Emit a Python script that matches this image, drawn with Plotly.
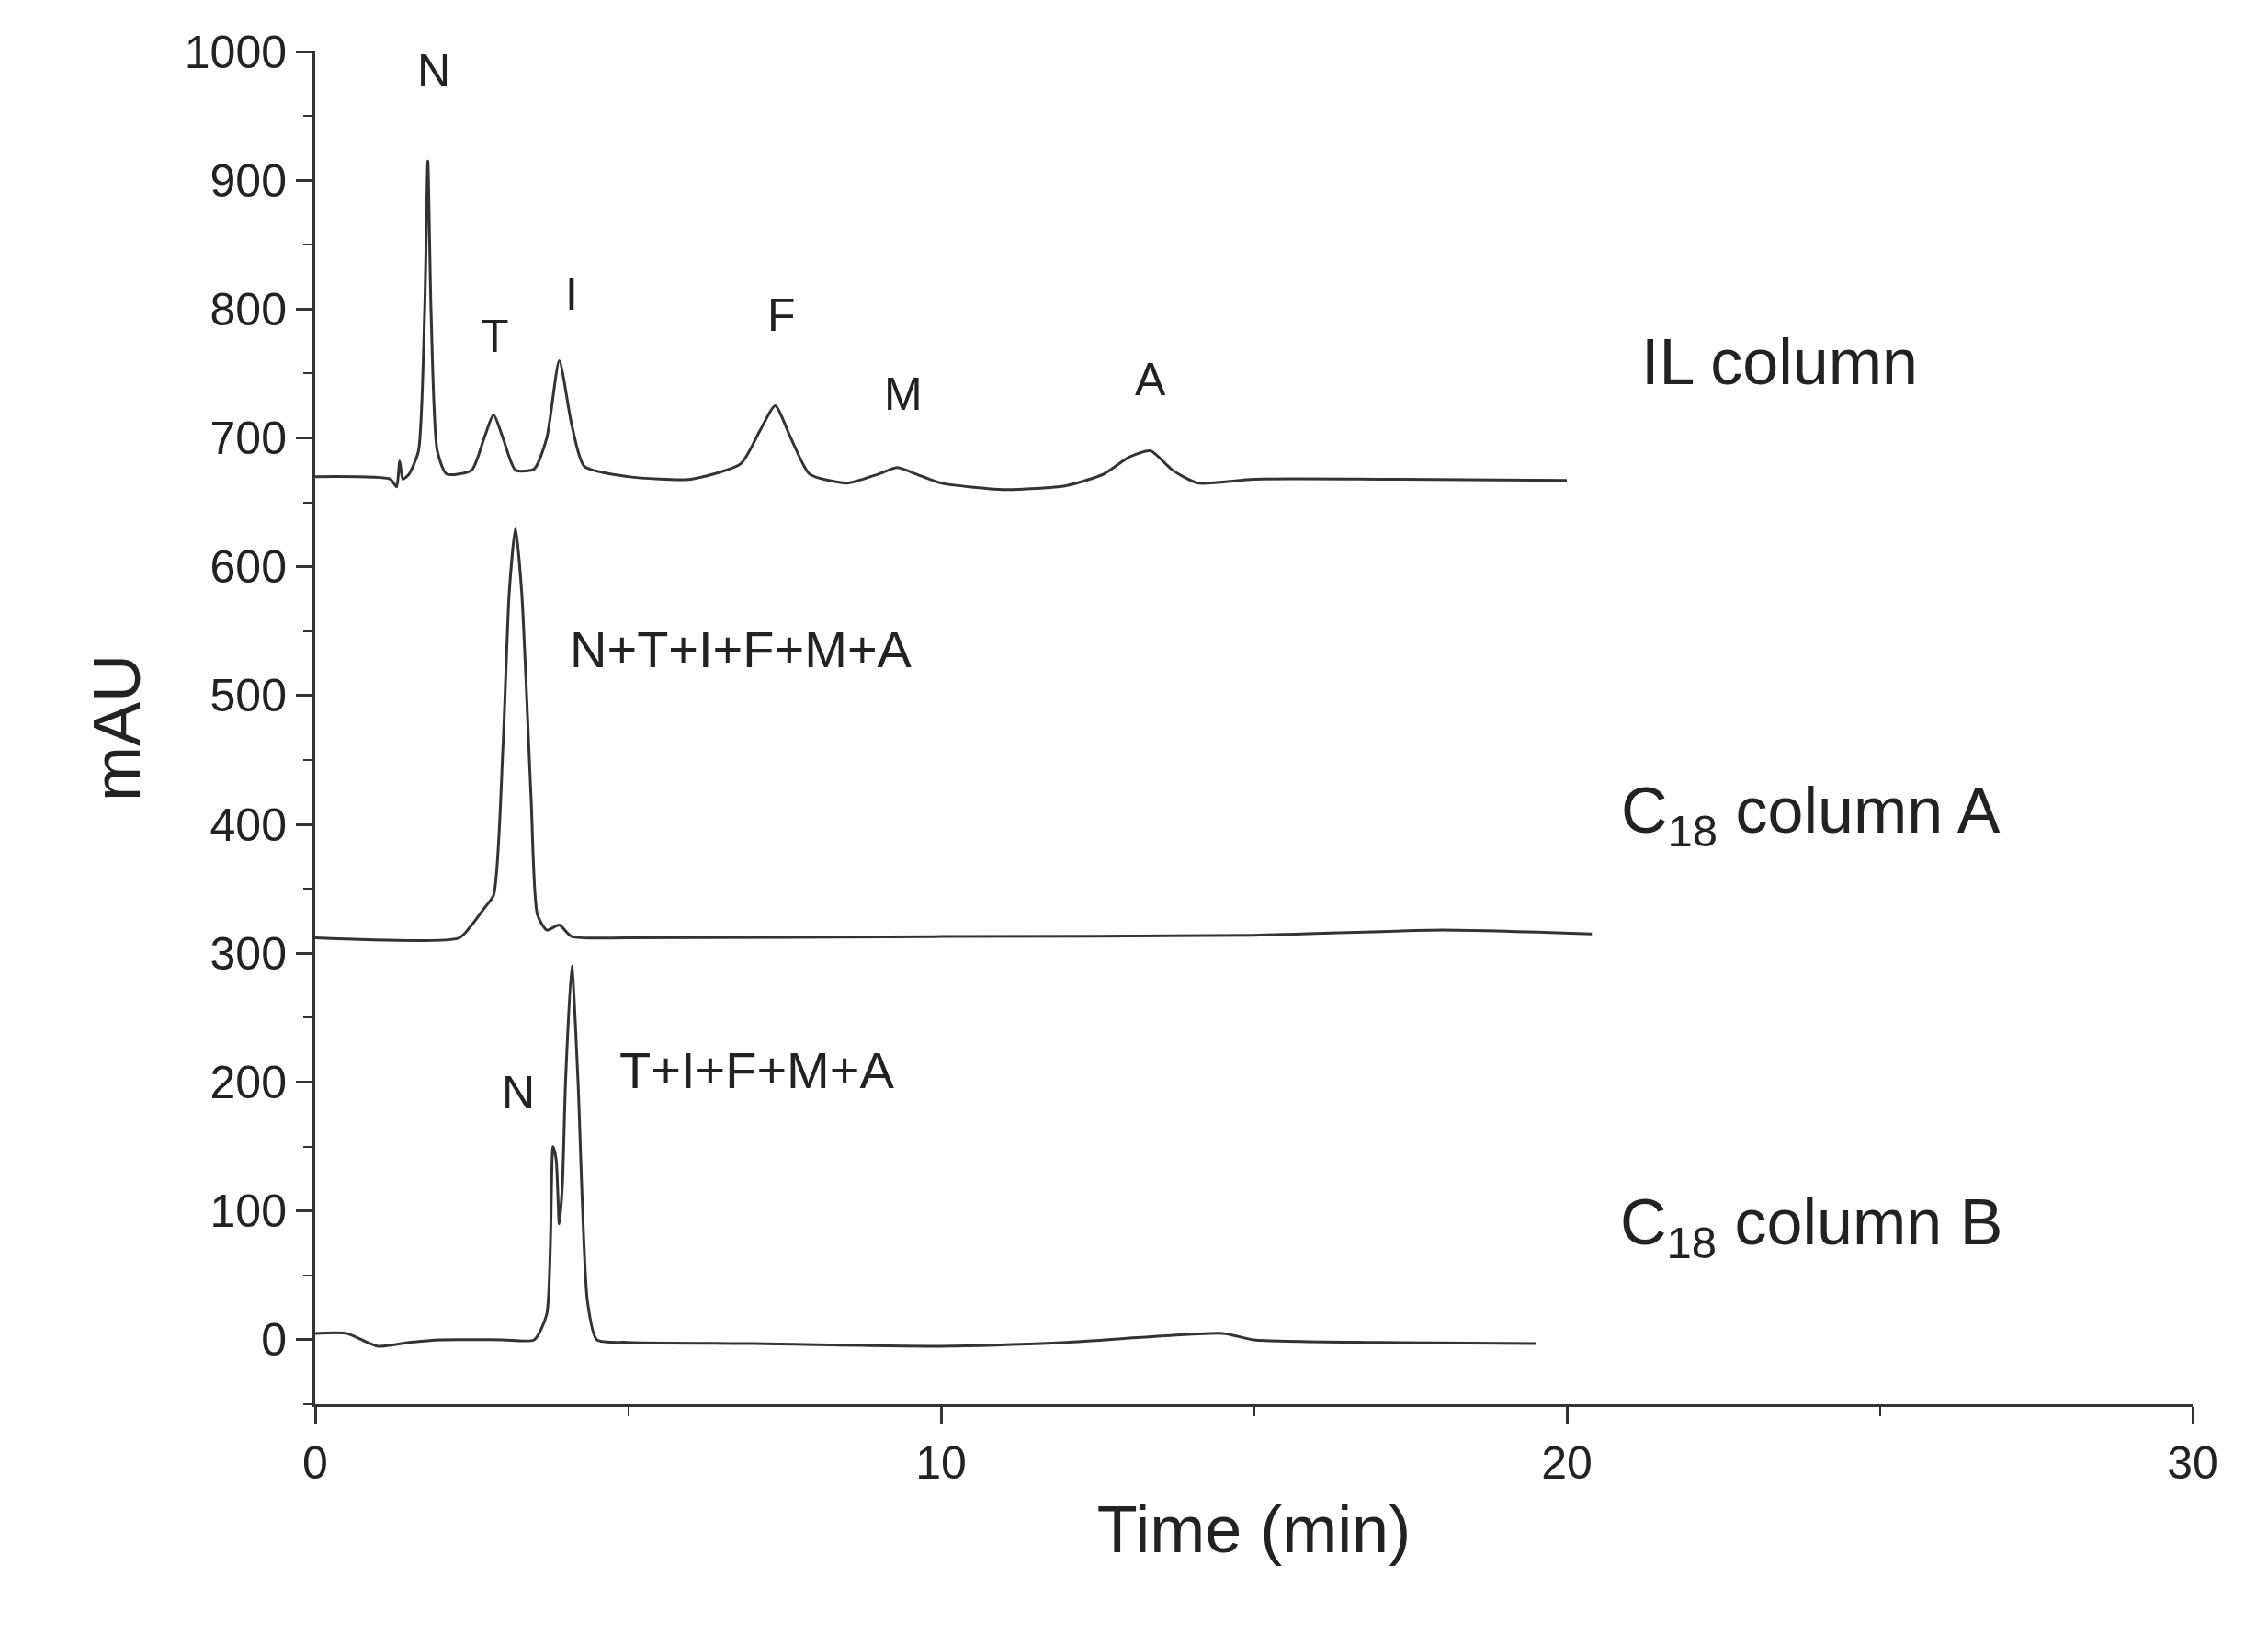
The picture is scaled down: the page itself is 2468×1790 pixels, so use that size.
import plotly.graph_objects as go

# IL column trace
il_t = [0, 1.2, 1.3, 1.35, 1.4, 1.5, 1.65, 1.75, 1.8, 1.85, 1.95, 2.1, 2.5, 2.7, 2.85, 3.0, 3.2, 3.5, 3.7, 3.9,
        4.1, 4.3, 5, 6, 6.8, 7.1, 7.35, 7.6, 7.9, 8.5, 9, 9.3, 9.6, 10, 11, 12, 12.6, 13, 13.35, 13.7, 14.1, 15, 17, 20]
il_y = [670, 668, 662, 682, 668, 672, 690, 800, 915, 800, 690, 672, 675, 700, 718, 700, 675, 676, 700, 760,
        710, 678, 670, 668, 680, 705, 725, 700, 672, 665, 672, 677, 672, 665, 660, 663, 672, 685, 690, 675, 665, 668, 668, 667]

# C18 column A trace
ca_t = [0, 2.3, 2.5, 2.7, 2.85, 3.0, 3.1, 3.2, 3.3, 3.45, 3.55, 3.7, 3.9, 4.1, 5, 10, 15, 18, 20.4]
ca_y = [312, 312, 322, 335, 345, 460, 580, 630, 580, 420, 330, 318, 322, 313, 312, 313, 314, 318, 315]

# C18 column B trace
cb_t = [0, 0.5, 1, 1.5, 2, 3, 3.5, 3.7, 3.8, 3.85, 3.9, 3.95, 4.0, 4.1, 4.2, 4.35, 4.5, 5, 7, 10, 12, 14.5, 15, 17, 19.5]
cb_y = [5, 5, -5, -2, 0, 0, 0, 20, 150, 140, 90, 120, 200, 290, 200, 30, 0, -2, -3, -5, -2, 5, 0, -2, -3]

labels = ["N", "T", "I", "F", "M", "A", "IL column", "N+T+I+F+M+A", "C<sub>18</sub> column A",
          "T+I+F+M+A", "N", "C<sub>18</sub> column B"]
label_x = [1.9, 2.87, 4.1, 7.45, 9.4, 13.35, 23.4, 6.8, 23.9, 7.05, 3.24, 23.9]
label_y = [985, 779, 812, 795, 734, 745, 759, 536, 407, 209, 192, 88]
label_size = [50, 50, 50, 50, 50, 50, 70, 56, 70, 56, 50, 70]

fig = go.Figure()
for t, y in [(il_t, il_y), (ca_t, ca_y), (cb_t, cb_y)]:
    fig.add_trace(go.Scatter(x=t, y=y, mode="lines", line=dict(color="#333333", width=3, shape="spline", smoothing=0.6),
                             showlegend=False))

for txt, x, y, s in zip(labels, label_x, label_y, label_size):
    fig.add_annotation(x=x, y=y, text=txt, showarrow=False, font=dict(size=s, color="#222222"))

axis_common = dict(showline=True, linecolor="#333333", linewidth=3, ticks="outside", ticklen=18,
                   tickwidth=3, tickcolor="#333333", showgrid=False, zeroline=False,
                   tickfont=dict(size=50, color="#222222"),
                   minor=dict(ticks="outside", ticklen=10, tickwidth=2, tickcolor="#333333"))

fig.update_layout(
    width=2468, height=1790, plot_bgcolor="white", paper_bgcolor="white",
    font=dict(family="Liberation Sans, Arial, sans-serif"),
    margin=dict(l=335, r=90, t=48, b=270),
    xaxis=dict(range=[0, 30], tickvals=[0, 10, 20, 30], minor_dtick=5,
               title=dict(text="Time (min)", font=dict(size=72, color="#222222"), standoff=20), **axis_common),
    yaxis=dict(range=[-50, 1000], dtick=100, minor_dtick=50,
               title=dict(text="mAU", font=dict(size=72, color="#222222"), standoff=25), **axis_common),
)

fig.write_html("out.html")
